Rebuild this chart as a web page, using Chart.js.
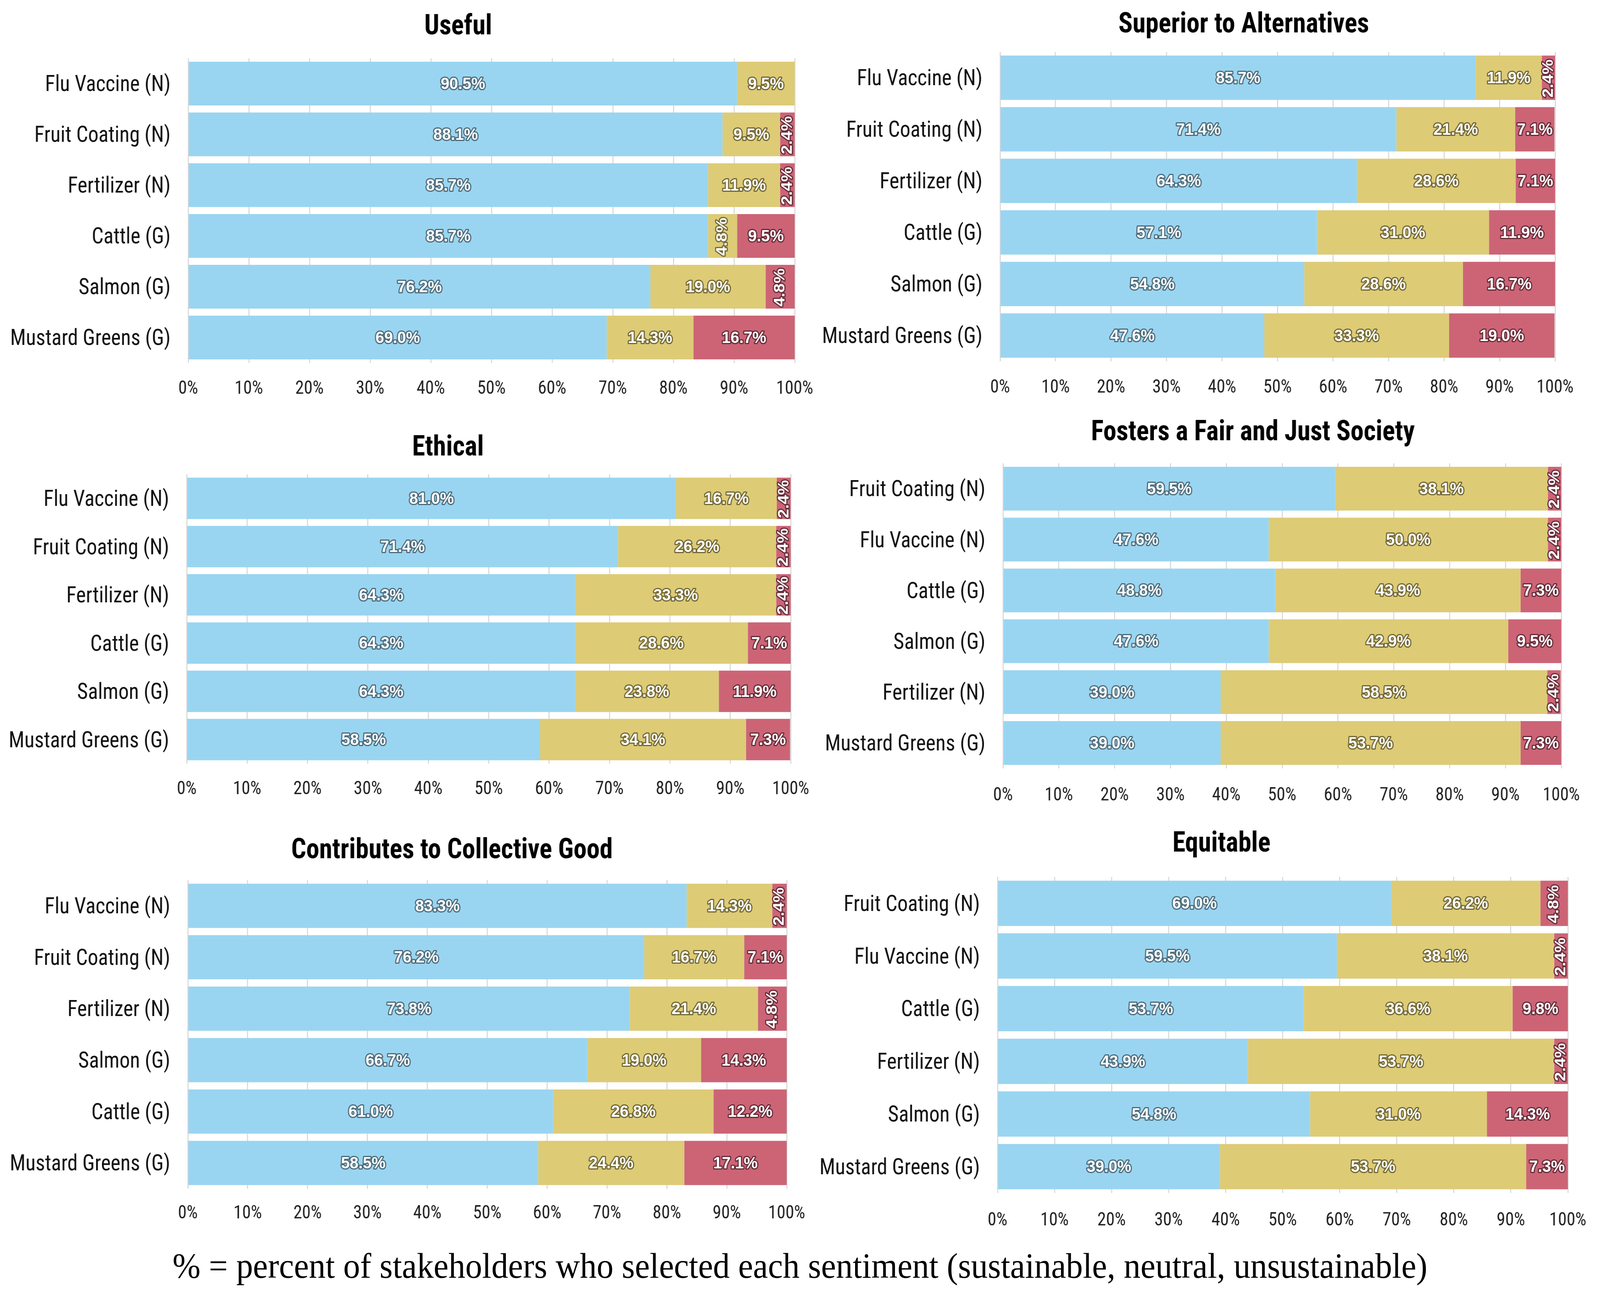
<!DOCTYPE html>
<html>
<head>
<meta charset="utf-8">
<script src="https://cdn.jsdelivr.net/npm/chart.js@4.4.1/dist/chart.umd.min.js"></script>
<style>
  html, body { margin: 0; padding: 0; background: #fff; overflow: hidden; }
  #page {
    position: absolute; left: 0; top: 0; width: 4379px; height: 3310px;
    transform-origin: 0 0;
  }
  #page canvas { position: absolute; }
  #note {
    position: absolute; left: 0; width: 4379px; text-align: center;
    font-family: 'Liberation Serif', 'DejaVu Serif', serif; color: #000;
    white-space: nowrap; line-height: 1;
  }
</style>
</head>
<body>
<div id="page">
  <div id="note"><span id="noteText">% = percent of stakeholders who selected each sentiment (sustainable, neutral, unsustainable)</span></div>
</div>
<script>
// ---- data ----
const usefulCats = ['Flu Vaccine (N)', 'Fruit Coating (N)', 'Fertilizer (N)', 'Cattle (G)', 'Salmon (G)', 'Mustard Greens (G)'];
const usefulSust = [90.5, 88.1, 85.7, 85.7, 76.2, 69.0];
const usefulNeut = [9.5, 9.5, 11.9, 4.8, 19.0, 14.3];
const usefulUnsus = [0, 2.4, 2.4, 9.5, 4.8, 16.7];

const superiorCats = ['Flu Vaccine (N)', 'Fruit Coating (N)', 'Fertilizer (N)', 'Cattle (G)', 'Salmon (G)', 'Mustard Greens (G)'];
const superiorSust = [85.7, 71.4, 64.3, 57.1, 54.8, 47.6];
const superiorNeut = [11.9, 21.4, 28.6, 31.0, 28.6, 33.3];
const superiorUnsus = [2.4, 7.1, 7.1, 11.9, 16.7, 19.0];

const ethicalCats = ['Flu Vaccine (N)', 'Fruit Coating (N)', 'Fertilizer (N)', 'Cattle (G)', 'Salmon (G)', 'Mustard Greens (G)'];
const ethicalSust = [81.0, 71.4, 64.3, 64.3, 64.3, 58.5];
const ethicalNeut = [16.7, 26.2, 33.3, 28.6, 23.8, 34.1];
const ethicalUnsus = [2.4, 2.4, 2.4, 7.1, 11.9, 7.3];

const fairCats = ['Fruit Coating (N)', 'Flu Vaccine (N)', 'Cattle (G)', 'Salmon (G)', 'Fertilizer (N)', 'Mustard Greens (G)'];
const fairSust = [59.5, 47.6, 48.8, 47.6, 39.0, 39.0];
const fairNeut = [38.1, 50.0, 43.9, 42.9, 58.5, 53.7];
const fairUnsus = [2.4, 2.4, 7.3, 9.5, 2.4, 7.3];

const collectiveCats = ['Flu Vaccine (N)', 'Fruit Coating (N)', 'Fertilizer (N)', 'Salmon (G)', 'Cattle (G)', 'Mustard Greens (G)'];
const collectiveSust = [83.3, 76.2, 73.8, 66.7, 61.0, 58.5];
const collectiveNeut = [14.3, 16.7, 21.4, 19.0, 26.8, 24.4];
const collectiveUnsus = [2.4, 7.1, 4.8, 14.3, 12.2, 17.1];

const equitableCats = ['Fruit Coating (N)', 'Flu Vaccine (N)', 'Cattle (G)', 'Fertilizer (N)', 'Salmon (G)', 'Mustard Greens (G)'];
const equitableSust = [69.0, 59.5, 53.7, 43.9, 54.8, 39.0];
const equitableNeut = [26.2, 38.1, 36.6, 53.7, 31.0, 53.7];
const equitableUnsus = [4.8, 2.4, 9.8, 2.4, 14.3, 7.3];

const tickValues = [0, 10, 20, 30, 40, 50, 60, 70, 80, 90, 100];

// ---- styling / layout (in 4379 x 3310 figure pixels) ----
const BLUE = '#99d5f1', GOLD = '#ddcb76', RED = '#cc6476';
const CONDENSED = "'Roboto Condensed', Roboto, sans-serif";

const panels = [
  { title: 'Useful', cats: usefulCats, s: usefulSust, n: usefulNeut, u: usefulUnsus,
    x0: 0, y0: 0, w: 2350, h: 1040, tx: 1254, ty: 70, L: 515, R: 2175, T: 149, B: 929, tickY: 996 },
  { title: 'Superior to Alternatives', cats: superiorCats, s: superiorSust, n: superiorNeut, u: superiorUnsus,
    x0: 2200, y0: 0, w: 2300, h: 1040, tx: 3404, ty: 65, L: 2737, R: 4256, T: 133, B: 925, tickY: 993 },
  { title: 'Ethical', cats: ethicalCats, s: ethicalSust, n: ethicalNeut, u: ethicalUnsus,
    x0: 0, y0: 1040, w: 2350, h: 1060, tx: 1226, ty: 1148, L: 511, R: 2164, T: 1214, B: 1955, tickY: 2021 },
  { title: 'Fosters a Fair and Just Society', cats: fairCats, s: fairSust, n: fairNeut, u: fairUnsus,
    x0: 2200, y0: 1040, w: 2300, h: 1060, tx: 3429, ty: 1109, L: 2745, R: 4273, T: 1186, B: 1967, tickY: 2037 },
  { title: 'Contributes to Collective Good', cats: collectiveCats, s: collectiveSust, n: collectiveNeut, u: collectiveUnsus,
    x0: 0, y0: 2100, w: 2350, h: 1080, tx: 1237, ty: 2179, L: 514, R: 2153, T: 2253, B: 3043, tickY: 3107 },
  { title: 'Equitable', cats: equitableCats, s: equitableSust, n: equitableNeut, u: equitableUnsus,
    x0: 2200, y0: 2100, w: 2300, h: 1080, tx: 3343, ty: 2162, L: 2730, R: 4291, T: 2245, B: 3054, tickY: 3125 }
];

// the window may be narrower than the figure: squeeze the figure to fit it
const page = document.getElementById('page');
page.style.transform = 'scaleX(' + (window.innerWidth / 4379) + ')';

// white labels with a dark outline, rotated when the segment is too narrow
const segmentLabels = {
  id: 'segmentLabels',
  afterDatasetsDraw(chart) {
    const ctx = chart.ctx;
    ctx.save();
    ctx.font = 'bold 43px "Liberation Sans", Arial, sans-serif';
    ctx.lineJoin = 'round';
    ctx.lineWidth = 6;
    ctx.textAlign = 'center';
    ctx.textBaseline = 'middle';
    chart.data.datasets.forEach((ds, i) => {
      chart.getDatasetMeta(i).data.forEach((bar, j) => {
        const v = ds.data[j];
        if (!v) return;
        const txt = v.toFixed(1) + '%';
        const p = bar.getProps(['x', 'base', 'y'], true);
        const segW = Math.abs(p.x - p.base);
        const tw = ctx.measureText(txt).width;
        ctx.save();
        ctx.translate((p.x + p.base) / 2, p.y + 2);
        if (tw + 8 > segW) ctx.rotate(-Math.PI / 2);
        ctx.strokeStyle = ds.labelStroke;
        ctx.strokeText(txt, 0, 0);
        ctx.fillStyle = '#fff';
        ctx.fillText(txt, 0, 0);
        ctx.restore();
      });
    });
    ctx.restore();
  }
};

const panelTitle = {
  id: 'panelTitle',
  afterDraw(chart, args, opts) {
    const ctx = chart.ctx;
    ctx.save();
    ctx.font = 'bold 72px ' + CONDENSED;
    ctx.fillStyle = '#000';
    ctx.textAlign = 'center';
    ctx.textBaseline = 'middle';
    ctx.fillText(opts.text, opts.x, opts.y);
    ctx.restore();
  }
};

panels.forEach(p => {
  const cv = document.createElement('canvas');
  cv.width = p.w; cv.height = p.h;
  cv.style.left = p.x0 + 'px'; cv.style.top = p.y0 + 'px';
  cv.style.width = p.w + 'px'; cv.style.height = p.h + 'px';
  page.appendChild(cv);

  const tickFont = 48;
  new Chart(cv.getContext('2d'), {
    type: 'bar',
    data: {
      labels: p.cats,
      datasets: [
        { label: 'Sustainable', data: p.s, backgroundColor: BLUE, labelStroke: '#4c6b7b' },
        { label: 'Neutral', data: p.n, backgroundColor: GOLD, labelStroke: '#716733' },
        { label: 'Unsustainable', data: p.u, backgroundColor: RED, labelStroke: '#652b37' }
      ]
    },
    options: {
      indexAxis: 'y',
      responsive: false,
      animation: false,
      devicePixelRatio: 1,
      layout: { padding: { left: 0, top: p.T - p.y0, right: p.x0 + p.w - p.R, bottom: 0 } },
      datasets: { bar: { categoryPercentage: 1, barPercentage: 0.86, borderWidth: 0 } },
      plugins: {
        legend: { display: false },
        tooltip: { enabled: false },
        panelTitle: { text: p.title, x: p.tx - p.x0, y: p.ty - p.y0 }
      },
      scales: {
        x: {
          stacked: true, min: 0, max: 100,
          ticks: {
            stepSize: 10, autoSkip: false, maxRotation: 0,
            padding: p.tickY - p.B - tickFont * 0.6,
            color: '#222', font: { family: CONDENSED, size: tickFont },
            callback: v => tickValues.includes(v) ? v + '%' : ''
          },
          grid: { color: '#d9d9d9', lineWidth: 3, drawTicks: false },
          border: { display: false },
          afterFit: s => { s.height = p.y0 + p.h - p.B; }
        },
        y: {
          stacked: true,
          ticks: { padding: 48, labelOffset: 5, color: '#111', font: { family: CONDENSED, size: 57 } },
          grid: { display: false, drawTicks: false },
          border: { display: false },
          afterFit: s => { s.width = p.L - p.x0; }
        }
      }
    },
    plugins: [segmentLabels, panelTitle]
  });
});

// footer note, sized to span the same width as in the figure
const noteText = document.getElementById('noteText');
const note = document.getElementById('note');
let size = 82;
noteText.style.fontSize = size + 'px';
size = size * 3435 / noteText.offsetWidth;
noteText.style.fontSize = size + 'px';
note.style.top = (3245 - size * 0.55) + 'px';
</script>
</body>
</html>
